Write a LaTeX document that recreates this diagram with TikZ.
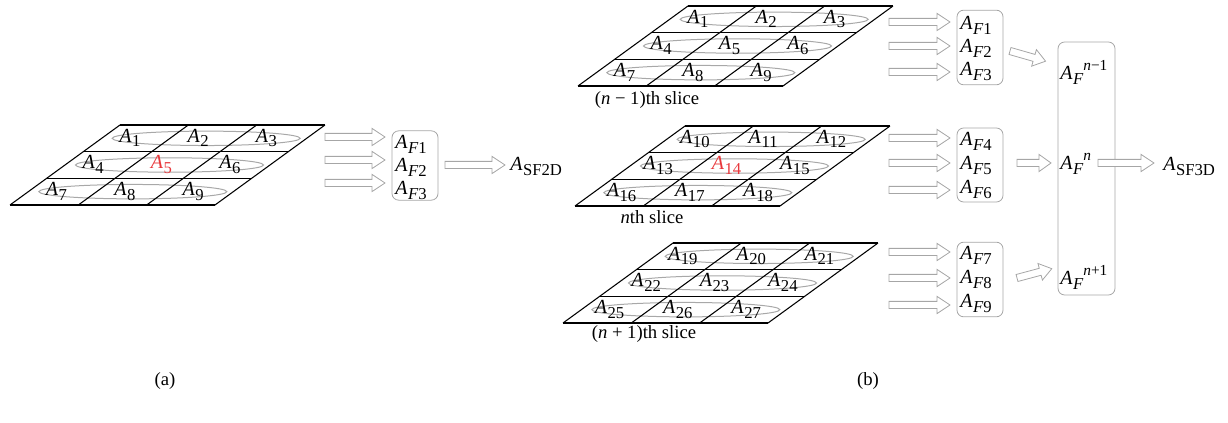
\documentclass[tikz,border=0pt]{standalone}
\usepackage{fontspec}
\setmainfont{Liberation Serif}
\newcommand\SubT[1]{\raisebox{-3.5pt}{\fontsize{12.5}{12.5}\selectfont #1}}
\newcommand\SupT[1]{\raisebox{6.8pt}{\fontsize{11.5}{11.5}\selectfont #1}}
\newcommand\Asub[1]{\textit{A}\kern0.4pt\SubT{#1}}
\newcommand\AFsup[1]{\textit{A}\kern0.4pt\SubT{\textit{F}}\SupT{#1}}
\newcommand\blkarrow[5][13]{% [head length] x, y, angle, length
  \draw[blk, shift={(#2,#3)}, rotate=#4]
    (0,-3.6) -- ({#5-#1},-3.6) -- ({#5-#1},-8.6) -- (#5,0) -- ({#5-#1},8.6) -- ({#5-#1},3.6) -- (0,3.6) -- cycle;}
\newcommand\slicegrid[5]{% x, y (top-left corner), first index, red index, name
  \begin{scope}[shift={(#1,#2)}]
    \foreach \r in {0,1,2}{
      \draw[ell] ({102.5-(\r+.5)*110/3+2},{(\r+.5)*80/3}) ellipse [x radius=70.5pt, y radius=5.4pt];}
    \foreach \v in {0,1,2,3}{
      \draw[hl] ({-\v*110/3},{\v*80/3}) -- ({205-\v*110/3},{\v*80/3});}
    \foreach \u in {0,1,2,3}{
      \draw[gl] ({\u*205/3},0) -- ({\u*205/3-110},80);}
    \foreach \r in {0,1,2}{
      \foreach \c in {0,1,2}{
        \pgfmathtruncatemacro\k{#3+3*\r+\c}
        \ifnum\k=#4 \def\lc{labred}\else\def\lc{black}\fi
        \node[albl, text=\lc] (#5-\k) at ({(\c+.5)*205/3-(\r+.5)*110/3-6},{(\r+.5)*80/3+4}) {\Asub{\k}};
      }
    }
  \end{scope}}
\definecolor{labred}{HTML}{E8383C}
\definecolor{agray}{HTML}{A6A6A6}
\definecolor{egray}{HTML}{A8A8A8}
\tikzset{
  gl/.style={line width=0.8pt, black},
  hl/.style={line width=1.2pt, black},
  ell/.style={draw=egray, line width=0.75pt},
  blk/.style={draw=agray, fill=white, line width=0.6pt, line join=miter},
  fbox/.style={draw=agray, rounded corners=5pt, line width=0.6pt, inner sep=0pt},
  lab/.style={font=\fontsize{14}{17}\selectfont, inner sep=0pt, anchor=base},
  albl/.style={font=\fontsize{15}{17}\selectfont, inner sep=0pt, anchor=base},
  labw/.style={font=\fontsize{15}{17}\selectfont, inner sep=0pt, anchor=base west},
}
\begin{document}
\begin{tikzpicture}[x=0.75pt, y=-0.75pt]
\useasboundingbox (0,0) rectangle (1228,423);

% ---------------- (a) ----------------
\slicegrid{120}{125}{1}{5}{ga}
\blkarrow{325}{137}{0}{60}
\blkarrow{325}{160}{0}{60}
\blkarrow{325}{183}{0}{60}
\node[fbox, minimum width=34.5pt, minimum height=52pt] (boxa) at (415,165.5) {};
\node[labw] (af1) at (395,149) {\Asub{\textit{F}1}};
\node[labw] (af2) at (395,172) {\Asub{\textit{F}2}};
\node[labw] (af3) at (395,195) {\Asub{\textit{F}3}};
\blkarrow{445}{165}{0}{60}
\node[labw] (asf2d) at (510,171) {\Asub{SF2D}};
\node[lab] (capa) at (165,386) {(a)};

% ---------------- (b) ----------------
\slicegrid{688}{6}{1}{0}{gt}
\slicegrid{685}{126}{10}{14}{gm}
\slicegrid{673}{243}{19}{0}{gb}
\node[lab] (s1) at (647,105) {(\textit{n} − 1)th slice};
\node[lab] (s2) at (652,224) {\textit{n}th slice};
\node[lab] (s3) at (644,339) {(\textit{n} + 1)th slice};

\foreach \y in {22,46,72,138,163,190,252,278,305}{
  \blkarrow{889}{\y}{0}{61}}

\node[fbox, minimum width=34.5pt, minimum height=56pt] (b1) at (980,47.5) {};
\node[fbox, minimum width=34.5pt, minimum height=55.5pt] (b2) at (980,165) {};
\node[fbox, minimum width=34.5pt, minimum height=56pt] (b3) at (980,279.5) {};
\node[labw] (f1) at (960,30) {\Asub{\textit{F}1}};
\node[labw] (f2) at (960,53) {\Asub{\textit{F}2}};
\node[labw] (f3) at (960,76) {\Asub{\textit{F}3}};
\node[labw] (f4) at (960,146) {\Asub{\textit{F}4}};
\node[labw] (f5) at (960,170) {\Asub{\textit{F}5}};
\node[labw] (f6) at (960,194) {\Asub{\textit{F}6}};
\node[labw] (f7) at (960,260) {\Asub{\textit{F}7}};
\node[labw] (f8) at (960,284) {\Asub{\textit{F}8}};
\node[labw] (f9) at (960,308) {\Asub{\textit{F}9}};

\node[fbox, minimum width=42.75pt, minimum height=189.75pt] (big) at (1086.5,168.5) {};
\node[labw] (fn1) at (1060,80) {\AFsup{\textit{n}−1}};
\node[labw] (fn) at (1060,170) {\AFsup{\textit{n}}};
\node[labw] (fn2) at (1060,285) {\AFsup{\textit{n}+1}};

\blkarrow[12]{1010}{51}{-16}{37}
\blkarrow[12]{1017}{163}{0}{34}
\blkarrow[12]{1017}{278}{15}{36}
\blkarrow{1098}{163}{0}{56}
\node[labw] (asf3d) at (1163,171) {\Asub{SF3D}};
\node[lab] (capb) at (868,386) {(b)};
\end{tikzpicture}
\end{document}
